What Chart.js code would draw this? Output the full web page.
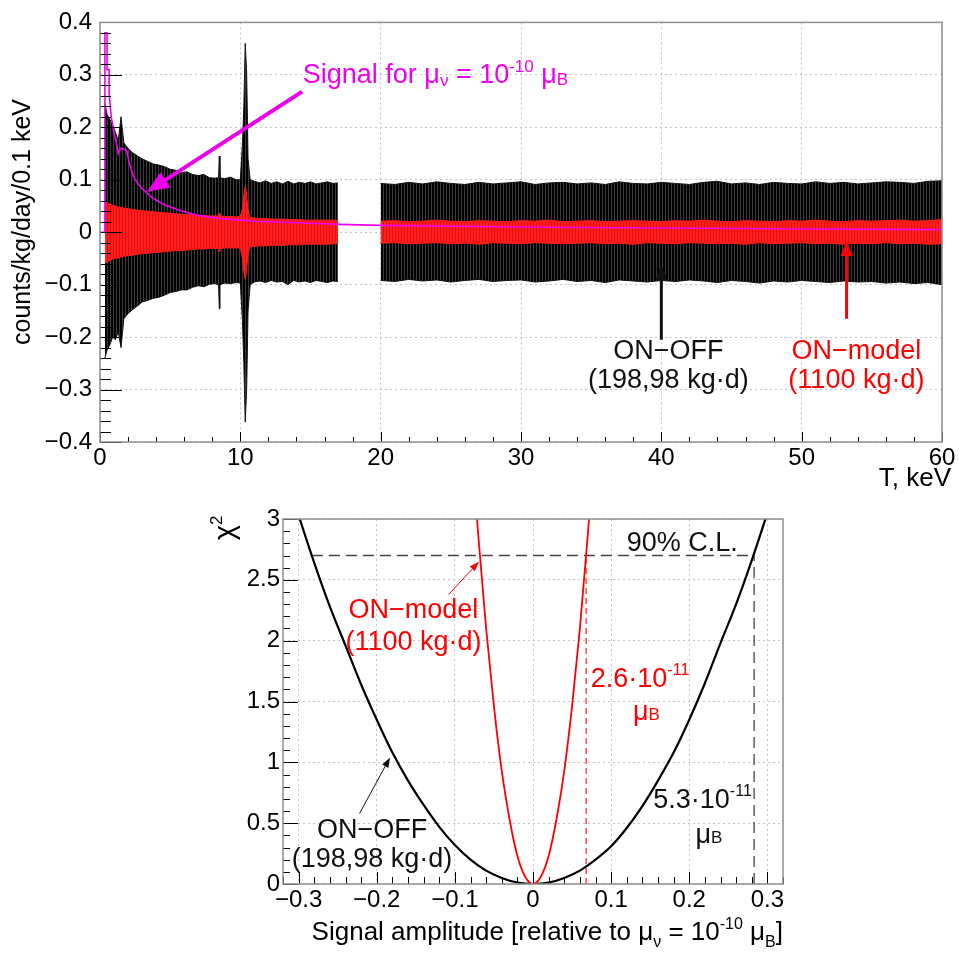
<!DOCTYPE html>
<html>
<head>
<meta charset="utf-8">
<script src="https://cdn.jsdelivr.net/npm/chart.js@4.4.1/dist/chart.umd.min.js"></script>
<style>
  html, body { margin: 0; padding: 0; background: #fff; }
  #spectrumBox { position: absolute; left: 0; top: 0; width: 959px; height: 490px; }
  #chi2Box { position: absolute; left: 0; top: 490px; width: 959px; height: 470px; }
</style>
</head>
<body>
<div id="spectrumBox"><canvas id="spectrum"></canvas></div>
<div id="chi2Box"><canvas id="chi2"></canvas></div>
<script>
const FONT = "'Liberation Sans', Arial, Helvetica, sans-serif";

// ---- top panel: residual spectra in 0.1 keV bins (error envelopes) ----
const kevTicks = [0, 10, 20, 30, 40, 50, 60];
const rateTicks = [-0.4, -0.3, -0.2, -0.1, 0, 0.1, 0.2, 0.3, 0.4];

// below the 17-20 keV gap
const kevLow = [0.35, 0.5, 0.7, 0.9, 1.1, 1.3, 1.5, 1.7, 2.0, 2.3, 2.7, 3.0, 3.4, 3.8, 4.2, 4.6, 5.0, 5.4,
  5.8, 6.2, 6.6, 7.0, 7.4, 7.8, 8.2, 8.45, 8.5, 8.55, 8.9, 9.3, 9.7, 10.0, 10.15, 10.25, 10.35, 10.45,
  10.55, 10.7, 11.0, 11.4, 11.8, 12.2, 12.6, 13.0, 13.4, 13.8, 14.2, 14.6, 15.0, 15.4, 15.8, 16.2, 16.6, 16.95];
const onOffHiLow = [0.245, 0.225, 0.215, 0.205, 0.19, 0.175, 0.22, 0.17, 0.16, 0.152, 0.145, 0.14, 0.135, 0.13,
  0.128, 0.125, 0.12, 0.118, 0.114, 0.115, 0.11, 0.108, 0.11, 0.104, 0.103, 0.104, 0.145, 0.104, 0.102, 0.105,
  0.1, 0.1, 0.17, 0.24, 0.36, 0.305, 0.14, 0.1, 0.097, 0.094, 0.098, 0.093, 0.096, 0.092, 0.097, 0.092, 0.095,
  0.093, 0.096, 0.092, 0.094, 0.096, 0.093, 0.094];
const onOffLoLow = [-0.24, -0.225, -0.215, -0.2, -0.205, -0.19, -0.22, -0.165, -0.155, -0.148, -0.14, -0.133,
  -0.13, -0.126, -0.124, -0.12, -0.115, -0.113, -0.11, -0.11, -0.105, -0.102, -0.104, -0.099, -0.098, -0.1,
  -0.146, -0.1, -0.097, -0.098, -0.096, -0.097, -0.17, -0.25, -0.362, -0.3, -0.15, -0.1, -0.095, -0.093,
  -0.096, -0.092, -0.095, -0.094, -0.1, -0.092, -0.095, -0.093, -0.096, -0.092, -0.094, -0.096, -0.093, -0.094];
const onModelHiLow = [0.058, 0.056, 0.053, 0.051, 0.05, 0.048, 0.047, 0.046, 0.045, 0.043, 0.042, 0.041, 0.04,
  0.039, 0.038, 0.037, 0.036, 0.035, 0.034, 0.034, 0.033, 0.032, 0.032, 0.031, 0.031, 0.031, 0.036, 0.031, 0.03,
  0.03, 0.029, 0.03, 0.045, 0.07, 0.088, 0.07, 0.04, 0.028, 0.027, 0.026, 0.026, 0.025, 0.025, 0.025, 0.024,
  0.024, 0.024, 0.023, 0.023, 0.023, 0.023, 0.023, 0.023, 0.022];
const onModelLoLow = [-0.058, -0.057, -0.054, -0.051, -0.05, -0.049, -0.047, -0.046, -0.045, -0.044, -0.042,
  -0.041, -0.04, -0.039, -0.038, -0.037, -0.036, -0.035, -0.035, -0.034, -0.033, -0.032, -0.032, -0.031, -0.031,
  -0.031, -0.037, -0.031, -0.03, -0.03, -0.03, -0.03, -0.05, -0.075, -0.09, -0.07, -0.04, -0.028, -0.027, -0.026,
  -0.026, -0.025, -0.025, -0.025, -0.024, -0.024, -0.024, -0.023, -0.023, -0.023, -0.023, -0.023, -0.022, -0.022];

// above the gap
const kevHigh = [20, 21, 22, 23, 24, 25, 26, 27, 28, 29, 30, 31, 32, 33, 34, 35, 36, 37, 38, 39, 40,
  41, 42, 43, 44, 45, 46, 47, 48, 49, 50, 51, 52, 53, 54, 55, 56, 57, 58, 59, 60];
const onOffHiHigh = [0.093, 0.091, 0.095, 0.092, 0.096, 0.093, 0.091, 0.095, 0.092, 0.094, 0.096, 0.091, 0.094,
  0.095, 0.092, 0.094, 0.091, 0.096, 0.093, 0.092, 0.095, 0.093, 0.091, 0.095, 0.097, 0.092, 0.094, 0.091, 0.095,
  0.093, 0.092, 0.096, 0.093, 0.095, 0.092, 0.094, 0.096, 0.095, 0.093, 0.097, 0.098];
const onOffLoHigh = [-0.092, -0.094, -0.09, -0.093, -0.091, -0.095, -0.092, -0.09, -0.094, -0.092, -0.091, -0.095,
  -0.093, -0.09, -0.094, -0.092, -0.096, -0.091, -0.093, -0.095, -0.092, -0.094, -0.091, -0.093, -0.096, -0.092,
  -0.094, -0.097, -0.093, -0.095, -0.092, -0.094, -0.096, -0.093, -0.095, -0.094, -0.097, -0.095, -0.098, -0.096, -0.1];
const onModelHiHigh = [0.021, 0.022, 0.02, 0.021, 0.023, 0.021, 0.02, 0.022, 0.021, 0.02, 0.022, 0.021, 0.023,
  0.02, 0.021, 0.022, 0.02, 0.021, 0.022, 0.021, 0.02, 0.022, 0.021, 0.023, 0.021, 0.02, 0.022, 0.021, 0.02, 0.022,
  0.021, 0.023, 0.021, 0.02, 0.022, 0.021, 0.022, 0.023, 0.021, 0.022, 0.024];
const onModelLoHigh = [-0.021, -0.02, -0.022, -0.021, -0.02, -0.022, -0.021, -0.023, -0.02, -0.021, -0.022, -0.02,
  -0.021, -0.022, -0.021, -0.02, -0.022, -0.021, -0.023, -0.02, -0.021, -0.022, -0.02, -0.021, -0.022, -0.021,
  -0.023, -0.02, -0.022, -0.021, -0.02, -0.022, -0.021, -0.023, -0.021, -0.022, -0.02, -0.022, -0.021, -0.023, -0.022];

// expected signal for mu_nu = 1e-10 mu_B
const signalKev = [0, 0.35, 0.35, 0.5, 0.5, 0.65, 0.65, 0.8, 1.0, 1.2, 1.3, 1.45, 1.55, 1.9, 2.1, 2.4, 2.7, 3.0,
  3.3, 3.7, 4.2, 4.7, 5.2, 6.0, 7.0, 8.0, 9.0, 10.0, 11.0, 12.0, 14.0, 16.0, 17.0, 20.0, 30.0, 40.0, 50.0, 60.0];
const signalRate = [0, 0, 0.38, 0.38, 0.31, 0.31, 0.265, 0.22, 0.19, 0.165, 0.15, 0.16, 0.16, 0.155, 0.13, 0.105,
  0.093, 0.083, 0.076, 0.066, 0.058, 0.051, 0.046, 0.039, 0.032, 0.028, 0.025, 0.023, 0.021, 0.02, 0.018, 0.016,
  0.015, 0.013, 0.01, 0.008, 0.006, 0.005];

// ---- bottom panel: chi2 profiles ----
const amplitudeTicks = [-0.3, -0.2, -0.1, 0, 0.1, 0.2, 0.3];
const chi2Ticks = [0, 0.5, 1, 1.5, 2, 2.5, 3];

const amplitudeOnOff = [-0.32, -0.3, -0.28, -0.26, -0.24, -0.22, -0.2, -0.18, -0.16, -0.14, -0.12, -0.1, -0.08,
  -0.06, -0.04, -0.02, 0, 0.02, 0.04, 0.06, 0.08, 0.1, 0.12, 0.14, 0.16, 0.18, 0.2, 0.22, 0.24, 0.26, 0.28, 0.3, 0.32];
const chi2OnOff = [3.45, 3.03, 2.64, 2.28, 1.96, 1.64, 1.35, 1.08, 0.85, 0.65, 0.47, 0.32, 0.2, 0.11, 0.05, 0.012,
  0, 0.012, 0.05, 0.11, 0.2, 0.31, 0.46, 0.64, 0.85, 1.08, 1.35, 1.65, 1.98, 2.3, 2.66, 3.05, 3.46];
const amplitudeOnModel = [-0.075, -0.07, -0.06, -0.05, -0.04, -0.03, -0.02, -0.01, 0, 0.01, 0.02, 0.03, 0.04,
  0.05, 0.06, 0.07, 0.075];
const chi2OnModel = [3.29, 2.86, 2.1, 1.46, 0.93, 0.53, 0.23, 0.06, 0, 0.06, 0.23, 0.53, 0.93, 1.46, 2.1, 2.86, 3.29];

const clLevel = 2.7;          // 90% C.L.
const limitOnOff = 0.283;
const limitOnModel = 0.068;

// ---------------------------------------------------------------------
const pts = (xs, ys) => xs.map((x, i) => ({ x, y: ys[i] }));
const minus = (s) => s.replace('-', '\u2212');

function stripes(dark, light) {
  const c = document.createElement('canvas');
  c.width = 3; c.height = 4;
  const g = c.getContext('2d');
  g.fillStyle = light; g.fillRect(0, 0, 3, 4);
  g.fillStyle = dark; g.fillRect(0, 0, 2, 4);
  return g.createPattern(c, 'repeat');
}

function rich(ctx, parts, x, y, align, color) {
  let w = 0;
  parts.forEach(([t, size]) => { ctx.font = `${size}px ${FONT}`; w += ctx.measureText(t).width; });
  let cx = align === 'center' ? x - w / 2 : align === 'right' ? x - w : x;
  ctx.fillStyle = color;
  ctx.textAlign = 'left';
  ctx.textBaseline = 'alphabetic';
  parts.forEach(([t, size, dy]) => {
    ctx.font = `${size}px ${FONT}`;
    ctx.fillText(t, cx, y + (dy || 0));
    cx += ctx.measureText(t).width;
  });
}

function arrow(ctx, x0, y0, x1, y1, color, lw, len, wid) {
  const ang = Math.atan2(y1 - y0, x1 - x0);
  const bx = x1 - len * Math.cos(ang), by = y1 - len * Math.sin(ang);
  ctx.strokeStyle = color; ctx.lineWidth = lw;
  ctx.beginPath(); ctx.moveTo(x0, y0); ctx.lineTo(bx, by); ctx.stroke();
  ctx.fillStyle = color;
  ctx.beginPath();
  ctx.moveTo(x1, y1);
  ctx.lineTo(bx + wid / 2 * Math.sin(ang), by - wid / 2 * Math.cos(ang));
  ctx.lineTo(bx - wid / 2 * Math.sin(ang), by + wid / 2 * Math.cos(ang));
  ctx.closePath(); ctx.fill();
}

// ROOT-like frame with ticks inside the pad
function frameAndTicks(chart, t) {
  const { ctx, chartArea: a } = chart;
  const sx = chart.scales.x, sy = chart.scales.y;
  ctx.save();
  ctx.strokeStyle = '#000';
  ctx.lineWidth = 1;
  ctx.beginPath();
  const nx = Math.round((sx.max - sx.min) / t.xMinor);
  for (let i = 0; i <= nx; i++) {
    const v = sx.min + i * t.xMinor;
    const major = Math.abs(v / t.xMajor - Math.round(v / t.xMajor)) < 1e-6;
    const px = Math.round(sx.getPixelForValue(v)) + 0.5;
    ctx.moveTo(px, a.bottom);
    ctx.lineTo(px, a.bottom - (major ? t.xLong : t.xShort));
  }
  const ny = Math.round((sy.max - sy.min) / t.yMinor);
  for (let i = 0; i <= ny; i++) {
    const v = sy.min + i * t.yMinor;
    const major = Math.abs(v / t.yMajor - Math.round(v / t.yMajor)) < 1e-6;
    const py = Math.round(sy.getPixelForValue(v)) + 0.5;
    ctx.moveTo(a.left, py);
    ctx.lineTo(a.left + (major ? t.yLong : t.yShort), py);
  }
  ctx.stroke();
  ctx.strokeStyle = '#8f8f8f';
  ctx.lineWidth = 1.5;
  ctx.strokeRect(a.left, a.top, a.right - a.left, a.bottom - a.top);
  ctx.restore();
}

function axis(ticks, min, max, pad, fontSize) {
  return {
    type: 'linear', min, max,
    afterBuildTicks: (s) => { s.ticks = ticks.map((value) => ({ value })); },
    ticks: {
      autoSkip: false, maxRotation: 0, padding: pad, color: '#000',
      font: { family: FONT, size: fontSize },
      callback: (v) => minus(String(v)),
    },
    grid: { color: '#c4c4c4', lineWidth: 1, drawTicks: false },
    border: { display: false, dash: [2, 3] },
  };
}

const blackFill = stripes('#000', '#3c3c3c');
const redFill = stripes('#ff1e1e', '#e01010');

function band(xs, hi, lo, idx, edge, fill, order) {
  return [
    { data: pts(xs, hi), borderColor: edge, borderWidth: 1, pointRadius: 0, fill: false, order },
    { data: pts(xs, lo), borderColor: edge, borderWidth: 1, pointRadius: 0, fill: idx, backgroundColor: fill, order },
  ];
}

const spectrumPlugin = {
  id: 'spectrumDecor',
  afterDraw(chart) {
    frameAndTicks(chart, { xMinor: 2, xMajor: 10, xLong: 10, xShort: 5, yMinor: 0.02, yMajor: 0.1, yLong: 22, yShort: 11 });
    const { ctx } = chart;
    const X = (v) => chart.scales.x.getPixelForValue(v);
    const Y = (v) => chart.scales.y.getPixelForValue(v);
    ctx.save();
    rich(ctx, [['Signal for μ', 27], ['ν', 17, 3], [' = 10', 27], ['-10', 17, -11], [' μ', 27], ['B', 17, 2]],
      X(14.45), Y(0.285), 'left', '#ee00ee');
    arrow(ctx, X(14.4), Y(0.268), X(3.35), Y(0.077), '#ee00ee', 4, 22, 18);

    arrow(ctx, X(40), Y(-0.205), X(40), Y(-0.062), '#111', 3, 15, 12);
    rich(ctx, [['ON\u2212OFF', 27]], X(40.5), Y(-0.242), 'center', '#111');
    rich(ctx, [['(198,98 kg·d)', 27]], X(40.5), Y(-0.297), 'center', '#111');

    arrow(ctx, X(53.2), Y(-0.165), X(53.2), Y(-0.017), '#ff0000', 3, 15, 12);
    rich(ctx, [['ON\u2212model', 27]], X(53.9), Y(-0.242), 'center', '#ff0000');
    rich(ctx, [['(1100 kg·d)', 27]], X(53.9), Y(-0.297), 'center', '#ff0000');

    rich(ctx, [['T, keV', 26]], 951, 486, 'right', '#000');

    ctx.translate(30, 222);
    ctx.rotate(-Math.PI / 2);
    rich(ctx, [['counts/kg/day/0.1 keV', 25]], 0, 0, 'center', '#000');
    ctx.restore();
  },
};

new Chart(document.getElementById('spectrum'), {
  type: 'line',
  data: {
    datasets: [
      ...band(kevLow, onOffHiLow, onOffLoLow, 0, '#111', blackFill, 3),
      ...band(kevHigh, onOffHiHigh, onOffLoHigh, 2, '#111', blackFill, 3),
      ...band(kevLow, onModelHiLow, onModelLoLow, 4, '#ff1e1e', redFill, 2),
      ...band(kevHigh, onModelHiHigh, onModelLoHigh, 6, '#ff1e1e', redFill, 2),
      { data: pts(signalKev, signalRate), borderColor: '#ee00ee', borderWidth: 1.6, pointRadius: 0, fill: false, order: 1 },
    ],
  },
  options: {
    responsive: true,
    maintainAspectRatio: false,
    animation: false,
    devicePixelRatio: 1,
    layout: { padding: { left: 0, top: 16, right: 17, bottom: 0 } },
    plugins: { legend: { display: false }, tooltip: { enabled: false } },
    scales: {
      x: { ...axis(kevTicks, 0, 60, 2, 24), afterFit: (s) => { s.height = 48; } },
      y: { ...axis(rateTicks, -0.4, 0.4, 8, 24), afterFit: (s) => { s.width = 100; } },
    },
  },
  plugins: [spectrumPlugin],
});

const chi2Plugin = {
  id: 'chi2Decor',
  afterDraw(chart) {
    frameAndTicks(chart, { xMinor: 0.02, xMajor: 0.1, xLong: 12, xShort: 7, yMinor: 0.1, yMajor: 0.5, yLong: 15, yShort: 7 });
    const { ctx } = chart;
    const X = (v) => chart.scales.x.getPixelForValue(v);
    const Y = (v) => chart.scales.y.getPixelForValue(v);
    ctx.save();
    rich(ctx, [['90% C.L.', 27]], X(0.12), Y(2.74), 'left', '#111');

    arrow(ctx, X(-0.108), Y(2.38), X(-0.069), Y(2.65), '#ff0000', 1, 10, 7);
    rich(ctx, [['ON\u2212model', 27]], X(-0.153), Y(2.19), 'center', '#ff0000');
    rich(ctx, [['(1100 kg·d)', 27]], X(-0.153), Y(1.92), 'center', '#ff0000');

    arrow(ctx, X(-0.222), Y(0.58), X(-0.183), Y(1.04), '#111', 1, 10, 7);
    rich(ctx, [['ON\u2212OFF', 27]], X(-0.206), Y(0.378), 'center', '#111');
    rich(ctx, [['(198,98 kg·d)', 27]], X(-0.206), Y(0.14), 'center', '#111');

    rich(ctx, [['2.6·10', 27], ['-11', 16, -12]], X(0.074), Y(1.62), 'left', '#ff0000');
    rich(ctx, [['μ', 27], ['B', 17]], X(0.128), Y(1.35), 'left', '#ff0000');
    rich(ctx, [['5.3·10', 27], ['-11', 16, -12]], X(0.154), Y(0.625), 'left', '#111');
    rich(ctx, [['μ', 27], ['B', 17]], X(0.208), Y(0.337), 'left', '#111');

    rich(ctx, [['Signal amplitude [relative to μ', 26], ['ν', 16, 7], [' = 10', 26], ['-10', 16, -11],
      [' μ', 26], ['B', 16, 7], [']', 26]], 783, 450, 'right', '#000');

    ctx.translate(234, 38);
    ctx.rotate(-Math.PI / 2);
    rich(ctx, [['χ', 29], ['2', 17, -12]], 0, 0, 'center', '#000');
    ctx.restore();
  },
};

new Chart(document.getElementById('chi2'), {
  type: 'line',
  data: {
    datasets: [
      { data: pts([-limitOnOff, limitOnOff], [clLevel, clLevel]), borderColor: '#444', borderWidth: 1.3,
        borderDash: [11, 6], pointRadius: 0, order: 4 },
      { data: pts([limitOnOff, limitOnOff], [0, clLevel]), borderColor: '#444', borderWidth: 1.3,
        borderDash: [11, 6], pointRadius: 0, order: 4 },
      { data: pts([limitOnModel, limitOnModel], [0, clLevel]), borderColor: '#ff2020', borderWidth: 1.2,
        borderDash: [6, 4], pointRadius: 0, order: 4 },
      { data: pts(amplitudeOnOff, chi2OnOff), borderColor: '#000', borderWidth: 2.2, pointRadius: 0,
        cubicInterpolationMode: 'monotone', order: 2 },
      { data: pts(amplitudeOnModel, chi2OnModel), borderColor: '#ff0000', borderWidth: 1.8, pointRadius: 0,
        cubicInterpolationMode: 'monotone', order: 1 },
    ],
  },
  options: {
    responsive: true,
    maintainAspectRatio: false,
    animation: false,
    devicePixelRatio: 1,
    layout: { padding: { left: 0, top: 29, right: 176, bottom: 0 } },
    plugins: { legend: { display: false }, tooltip: { enabled: false } },
    scales: {
      x: { ...axis(amplitudeTicks, -0.32, 0.32, 2, 24), afterFit: (s) => { s.height = 76; } },
      y: { ...axis(chi2Ticks, 0, 3, 3, 24), afterFit: (s) => { s.width = 283; } },
    },
  },
  plugins: [chi2Plugin],
});
</script>
</body>
</html>
